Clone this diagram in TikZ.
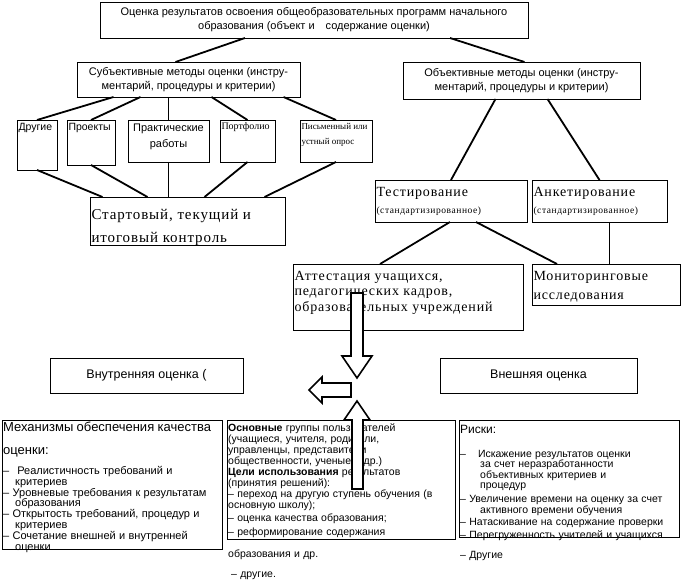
\documentclass[tikz,border=0pt]{standalone}
\usepackage{fontspec}
\setmainfont{Liberation Sans}
\newfontfamily\wideserif{Liberation Serif}[LetterSpace=6]
\newfontfamily\plainserif{Liberation Serif}
\usetikzlibrary{positioning}

% a box of fixed size: width, height, inner position, contents
\newcommand{\cell}[4]{\parbox[c][#2pt][#3]{\dimexpr#1pt-3pt\relax}{#4}}

\tikzset{
  box/.style={draw=black, fill=white, line width=0.8pt, anchor=north west, inner xsep=1.5pt, inner ysep=0pt, outer sep=0pt},
  frame/.style={draw=black, fill=white, line width=0.8pt, anchor=north west, inner sep=0pt, outer sep=0pt},
  txt/.style={anchor=north west, inner sep=0pt, align=left},
  conn/.style={line width=1.8pt},
  blockarrow/.style={draw=black, fill=white, line width=1.6pt, line join=miter},
}

\begin{document}
\begin{tikzpicture}[x=1pt, y=-1pt]
	\useasboundingbox (0,0) rectangle (681,580);

	% top level
	\node[box] (root) at (100,2) {\cell{428}{36}{c}{\centering\fontsize{11}{14}\selectfont
		Оценка результатов освоения общеобразовательных программ начального\\
		образования (объект и\quad содержание оценки)}};
	\node[box] (subj) at (77,62) {\cell{223}{35}{c}{\centering\fontsize{11}{14}\selectfont
		Субъективные методы оценки (инстру-\\ментарий, процедуры и критерии)}};
	\node[box] (obj) at (403,62) {\cell{237}{37}{c}{\centering\fontsize{11}{14}\selectfont
		Объективные методы оценки (инстру-\\ментарий, процедуры и критерии)}};

	% subjective methods
	\node[box] (drugie) at (17,120) {\cell{40}{50}{t}{\vspace*{3pt}\fontsize{10.5}{12}\selectfont Другие}};
	\node[box] (proekty) at (67,120) {\cell{48}{45}{t}{\vspace*{3pt}\fontsize{10.5}{12}\selectfont Проекты}};
	\node[box] (prakt) at (128,120) {\cell{81}{42}{t}{\vspace*{4pt}\centering\fontsize{11}{16}\selectfont Практические\\работы}};
	\node[box] (portf) at (220,120) {\cell{55}{42}{t}{\vspace*{3pt}\plainserif\fontsize{10}{12}\selectfont Портфолио}};
	\node[box] (pism) at (300,120) {\cell{72}{42}{t}{\vspace*{3pt}\raggedright\plainserif\fontsize{9}{15}\selectfont
		\mbox{Письменный или}\\устный опрос}};
	\node[box] (start) at (90,197) {\cell{195}{48}{t}{\vspace*{12pt}\raggedright\wideserif\fontsize{15}{23}\selectfont Стартовый, текущий и\\итоговый контроль}};

	% objective methods
	\node[box] (test) at (375,180) {\cell{152}{42}{c}{\raggedright\wideserif\fontsize{14}{15}\selectfont Тестирование\\[2pt]
		{\fontsize{9.5}{10}\selectfont (стандартизированное)}}};
	\node[box] (anket) at (532,180) {\cell{135}{42}{c}{\raggedright\wideserif\fontsize{14}{15}\selectfont Анкетирование\\[2pt]
		{\fontsize{9.5}{10}\selectfont (стандартизированное)}}};
	\node[box] (attest) at (293,264) {\cell{230}{66}{t}{\vspace*{7pt}\raggedright\wideserif\fontsize{14}{15.5}\selectfont
		Аттестация учащихся,\\педагогических кадров,\\образовательных учреждений}};
	\node[box] (monit) at (532,264) {\cell{148}{41}{t}{\vspace*{7pt}\raggedright\wideserif\fontsize{14}{19}\selectfont
		Мониторинговые\\исследования}};

	% internal / external
	\node[box] (inner) at (50,358) {\cell{193}{35}{c}{\centering\fontsize{12.5}{14}\selectfont Внутренняя оценка (}};
	\node[box] (outer) at (440,358) {\cell{197}{35}{c}{\centering\fontsize{12.5}{14}\selectfont Внешняя оценка}};

	% bottom row
	\node[frame, minimum width=220, minimum height=129] (mech) at (2,420) {};
	\node[frame, minimum width=228, minimum height=119] (users) at (227,420) {};
	\node[frame, minimum width=220, minimum height=117] (risk) at (459,420) {};

	\node[txt, text width=222pt] (mechtxt) at ([shift={(1,2)}]mech.north west) {%
		\fontsize{13}{23}\selectfont Механизмы обеспечения качества\\оценки:\par
		\vspace{9pt}\fontsize{11}{10.8}\selectfont
		–\hspace{8pt}Реалистичность требований и\\
		\hspace*{12pt}критериев\\
		– Уровневые требования к результатам\\
		\hspace*{12pt}образования\\
		– Открытость требований, процедур и\\
		\hspace*{12pt}критериев\\
		– Сочетание внешней и внутренней\\
		\hspace*{12pt}оценки\par};
	\node[txt, text width=230pt] (userstxt) at ([shift={(1,4)}]users.north west) {%
		\fontsize{10.5}{11}\selectfont
		\textbf{Основные} группы пользователей\\
		(учащиеся, учителя, родители,\\
		управленцы, представители\\
		общественности, ученые и др.)\\
		\textbf{Цели использования} результатов\\
		(принятия решений):\\
		– переход на другую ступень обучения (в\\
		основную школу);\\[2pt]
		– оценка качества образования;\\[3pt]
		– реформирование содержания\\[11pt]
		образования и др.\\[9pt]
		\hspace*{3pt}– другие.\par};
	\node[txt, text width=222pt] (risktxt) at ([shift={(1,5)}]risk.north west) {%
		\fontsize{12}{14}\selectfont Риски:\par
		\vspace{13pt}\fontsize{10.5}{10.6}\selectfont
		–\hspace{12pt}Искажение результатов оценки\\
		\hspace*{20pt}за счет неразработанности\\
		\hspace*{20pt}объективных критериев и\\
		\hspace*{20pt}процедур\\[3pt]
		– Увеличение времени на оценку за счет\\
		\hspace*{20pt}активного времени обучения\\[2pt]
		– Натаскивание на содержание проверки\\[2pt]
		– Перегруженность учителей и учащихся\\[10pt]
		– Другие\par};

	% connectors, top part
	\draw[conn] ([xshift=-69]root.south) -- ([xshift=-13]subj.north);
	\draw[conn] ([xshift=136]root.south) -- ([xshift=3]obj.north);

	\draw[conn] ([xshift=-75]subj.south) -- (drugie.north);
	\draw[conn] ([xshift=-48]subj.south) -- (proekty.north);
	\draw[conn] (prakt.north |- subj.south) -- (prakt.north);
	\draw[conn] ([xshift=23]subj.south) -- (portf.north);
	\draw[conn] ([xshift=95]subj.south) -- (pism.north);

	\draw[conn] (drugie.south) -- ([xshift=-85]start.north);
	\draw[conn] (proekty.south) -- ([xshift=-40]start.north);
	\draw[conn] (prakt.south) -- (prakt.south |- start.north);
	\draw[conn] (portf.south) -- ([xshift=17]start.north);
	\draw[conn] (pism.south) -- ([xshift=77]start.north);

	\draw[conn] ([xshift=-26]obj.south) -- (test.north);
	\draw[conn] ([xshift=26]obj.south) -- (anket.north);
	\draw[conn] ([xshift=-1]test.south) -- ([xshift=-28]attest.north);
	\draw[conn] ([xshift=25]test.south) -- ([xshift=-49]monit.north);
	\draw[conn] ([xshift=10]anket.south) -- ([xshift=10]anket.south |- monit.north);

	% block arrows
	\path[blockarrow] (351,293) -- (363,293) -- (363,356) -- (372,356) -- (357,378)
		-- (342,356) -- (351,356) -- cycle;
	\path[blockarrow] (351,383) -- (322,383) -- (322,377) -- (309,390) -- (322,403)
		-- (322,397) -- (351,397) -- cycle;
	\path[blockarrow] (352,489) -- (352,420) -- (344,420) -- (357,401) -- (370,420)
		-- (363,420) -- (363,489) -- cycle;
\end{tikzpicture}
\end{document}
